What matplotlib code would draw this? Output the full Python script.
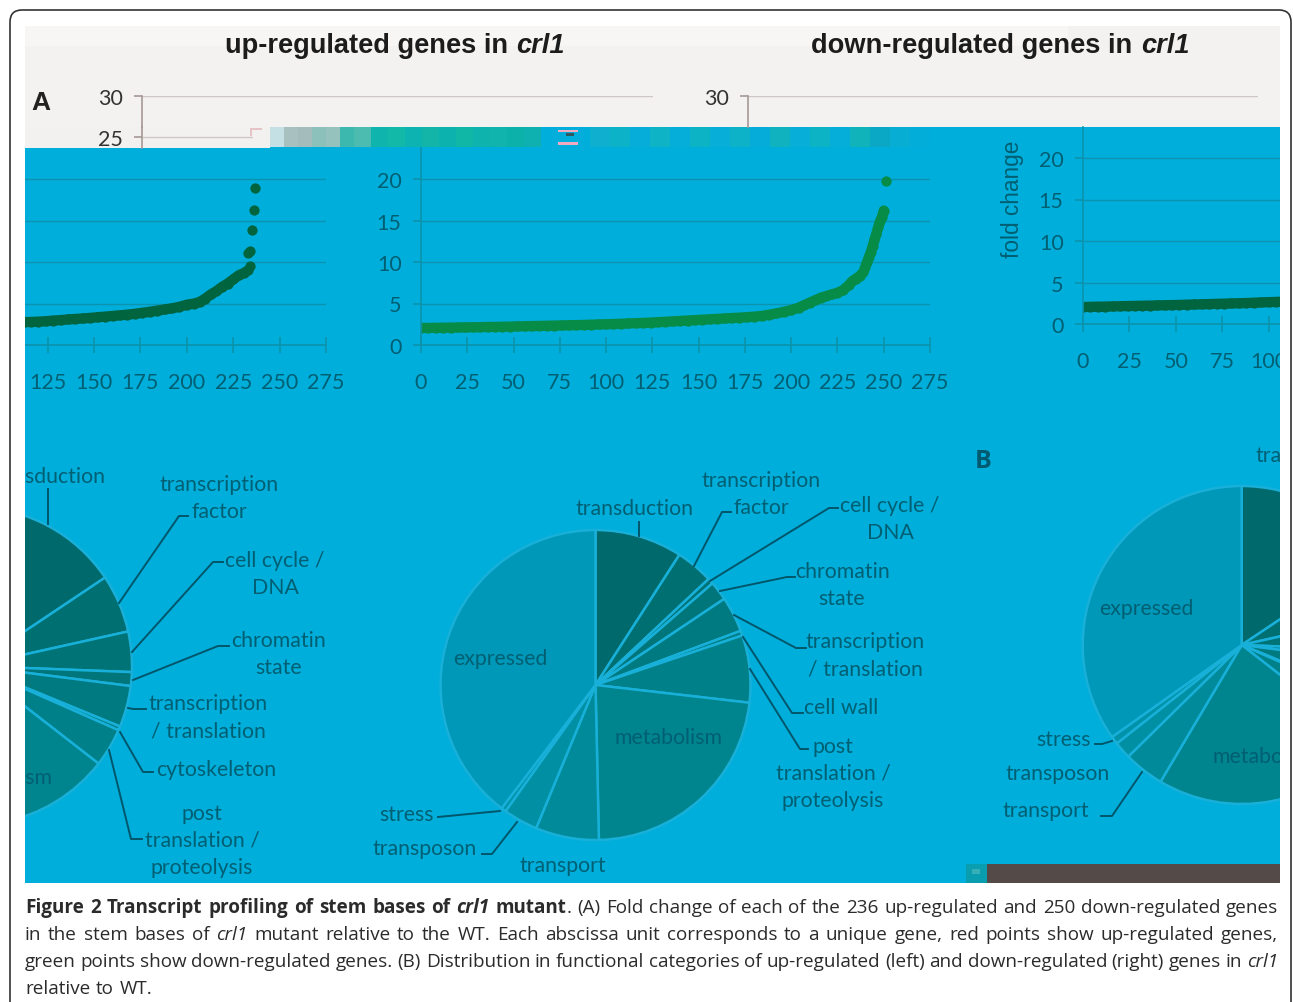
import matplotlib
matplotlib.use("Agg")
import matplotlib.pyplot as plt
from matplotlib.patches import Rectangle, FancyBboxPatch

W, H = 1293, 1003

# fold change, genes ranked by fold change
up_rank = list(range(0, 204, 4)) + [204, 207, 210, 213, 216, 219, 222, 225, 228, 231, 233, 234, 233, 234, 235, 236, 237]
up_fold = [2.05, 2.07, 2.09, 2.1, 2.12, 2.14, 2.16, 2.18, 2.2, 2.22, 2.24,
           2.26, 2.28, 2.3, 2.33, 2.35, 2.38, 2.4, 2.43, 2.45, 2.48,
           2.5, 2.53, 2.56, 2.6, 2.63, 2.66, 2.7, 2.74, 2.78, 2.82,
           2.86, 2.95, 3.0, 3.08, 3.14, 3.2, 3.27, 3.35, 3.42, 3.5,
           3.58, 3.66, 3.76, 3.88, 4.0, 4.14, 4.28, 4.42, 4.6, 4.85,
           5.0, 5.2, 5.6, 6.1, 6.5, 7.0, 7.4, 7.9, 8.4, 8.7, 9.0, 9.5, 11.1, 11.3, 13.9, 16.3, 18.9]
down_rank = list(range(0, 204, 4)) + [204, 207, 210, 213, 216, 219, 222, 225, 228, 231, 233, 235, 237, 239, 240, 241, 242, 243, 244, 245, 246, 247, 248, 249, 250, 251]
down_fold = [2.05, 2.06, 2.07, 2.08, 2.1, 2.11, 2.12, 2.14, 2.15, 2.17, 2.18,
             2.2, 2.22, 2.24, 2.26, 2.28, 2.3, 2.32, 2.34, 2.36, 2.38,
             2.4, 2.42, 2.45, 2.48, 2.5, 2.53, 2.56, 2.6, 2.63, 2.66,
             2.7, 2.75, 2.8, 2.85, 2.9, 2.95, 3.0, 3.05, 3.1, 3.15,
             3.2, 3.25, 3.3, 3.35, 3.42, 3.5, 3.65, 3.8, 4.0, 4.2,
             4.5, 4.8, 5.1, 5.4, 5.7, 5.9, 6.1, 6.3, 6.6, 7.2, 7.7, 8.0, 8.3, 8.8, 9.4, 10.0, 10.6, 11.2, 11.9, 12.7, 13.4, 14.2, 14.9, 15.4, 16.2, 19.8]
x_ticks = [0, 25, 50, 75, 100, 125, 150, 175, 200, 225, 250, 275]
y_ticks = [0, 5, 10, 15, 20]

# pie shares in percent, clockwise from twelve o'clock
up_share = [15.6, 5.9, 4.1, 1.4, 4.2, 0.4, 3.9, 23.0, 4.1, 1.75, 0.8, 34.8]
down_share = [9.1, 3.9, 0.6, 2.0, 3.7, 0.5, 7.0, 22.8, 6.6, 3.6, 0.5, 39.6]
pie_colors = ["#00696b", "#006f72", "#007377", "#00757a", "#007a81", "#007d84",
              "#008088", "#00858f", "#008a9a", "#008fa3", "#0092a9", "#0098b8"]

# colours of the damaged strip under the top band, left to right
strip_colors = ["#c5e0e5", "#a8c0c0", "#a4bcbc", "#8cc0bb", "#96c2bd", "#3cb8ae", "#4cbcb0",
                "#0fb5ad", "#12b8a8", "#0db3b0", "#12b5a8", "#0cb2ae", "#10b6a6", "#0db3ac",
                "#10b4ac", "#0cb2aa", "#0eb0b0"]
blue_strip = ["#0fb0cf", "#0cb2c8", "#06add8", "#0eb3c6", "#05add9", "#0cb3c4", "#06aed8", "#0db2c8",
              "#05acd9", "#10b2c0", "#06aed8", "#0cb3c4", "#05add9", "#10b3ba", "#0aa8c4", "#08add4", "#03add9"]

caption = [
    [("Figure 2 Transcript profiling of stem bases of ", "bold", "normal"), ("crl1", "bold", "italic"), (" mutant", "bold", "normal"),
     (". (A) Fold change of each of the 236 up-regulated and 250 down-regulated genes", "normal", "normal")],
    [("in the stem bases of ", "normal", "normal"), ("crl1", "normal", "italic"),
     (" mutant relative to the WT. Each abscissa unit corresponds to a unique gene, red points show up-regulated genes,", "normal", "normal")],
    [("green points show down-regulated genes. (B) Distribution in functional categories of up-regulated (left) and down-regulated (right) genes in ", "normal", "normal"),
     ("crl1", "normal", "italic")],
    [("relative to WT.", "normal", "normal")],
]

BLUE = "#00aedb"
INK = "#005f72"
GRID = "#0c93ad"
fig = plt.figure(figsize=(W / 100, H / 100), dpi=100, facecolor="white")


def px_axes(left, top, right, bottom, z=2):
    a = fig.add_axes([left / W, 1 - bottom / H, (right - left) / W, (bottom - top) / H], zorder=z)
    a.patch.set_alpha(0)
    return a


base = px_axes(0, 0, W, H, 1)
over = px_axes(0, 0, W, H, 5)


def box(a, x0, y0, x1, y1, color, **kw):
    a.add_patch(Rectangle((x0, H - y1), x1 - x0, y1 - y0, fc=color, ec="none", **kw))


def label(a, x, y, text, **kw):
    kw.setdefault("color", INK)
    kw.setdefault("fontsize", 15.3)
    kw.setdefault("family", "Lato")
    a.text(x, H - y, text, ha=kw.pop("ha", "center"), va="center", **kw)


def lines(x, y, text, step=27):
    for i, t in enumerate(text.split("\n")):
        label(base, x, y + 1 + i * step, t)


def leader(*pts):
    base.plot([p[0] for p in pts], [H - p[1] for p in pts], color="#00566a", lw=1.4, solid_joinstyle="round", zorder=6)


# background blocks
box(base, 25, 27, 1280, 128, "#f3f2f0")
box(base, 25, 27, 1068, 47, "#f7f6f5")
box(base, 25, 128, 270, 149, "#f3f1f0")
box(base, 25, 149, 1280, 884, BLUE)
box(base, 270, 128, 1280, 149, BLUE)
box(base, 250, 129, 262, 131, "#e6c4c6")
box(base, 250, 129, 252, 137, "#e6c4c6")
box(base, 987, 865, 1280, 884, "#544a47")
box(base, 966, 865, 987, 884, "#0a9db0")
box(base, 972, 870, 980, 875, "#35b0b8")

# damaged strip, coarse blocks like the JPEG errors in the source
xs = 270
for c in strip_colors:
    step = 14 if xs < 350 else 17
    box(base, xs, 128, xs + step, 148, c)
    xs += step
xs = 590
for c in blue_strip:
    box(base, xs, 128, xs + 20, 148, c)
    xs += 20
box(base, 558, 131, 578, 133, "#f0a9c0")
box(base, 558, 143, 578, 146, "#f0a9c0")
box(base, 566, 134, 574, 137, "#30585e")

# pies, the up-regulated one appears twice because the image wraps around
for cx, cy, r, share in [(-27, 667, 159, up_share), (1241.7, 646, 159, up_share), (595.5, 686, 155, down_share)]:
    base.pie(share, colors=pie_colors, center=(cx, H - cy), radius=r, startangle=90, counterclock=False,
             frame=True, wedgeprops=dict(edgecolor="#18b0d8", linewidth=1.8))
base.set_xlim(0, W)
base.set_ylim(0, H)
base.set_aspect("auto")
base.axis("off")


def panel(left, top, right, bottom, x_range, y_range, xt, yt, line, text, xlab=True):
    a = px_axes(left, top, right, bottom)
    a.set_xlim(*x_range)
    a.set_ylim(*y_range)
    for s in ["top", "right"]:
        a.spines[s].set_visible(False)
    a.spines["left"].set_color(line)
    a.spines["bottom"].set_color(line)
    a.spines["bottom"].set_visible(xlab)
    a.spines["left"].set_linewidth(1.2)
    a.spines["bottom"].set_linewidth(1.2)
    a.set_xticks(xt)
    a.set_yticks(yt)
    a.set_yticklabels([str(v) for v in yt], family="Lato", fontsize=15.5, color=text)
    a.set_xticklabels([str(v) for v in xt], family="Lato", fontsize=15.5, color=text)
    a.tick_params(axis="y", length=6, width=1.2, color=line, pad=8, direction="out")
    a.tick_params(axis="x", length=11, width=1.2, color=line, pad=14, direction="inout", bottom=xlab, labelbottom=xlab)
    a.grid(True, axis="y", color=line, lw=1.0)
    a.set_axisbelow(True)
    return a


scale = 1.855
y_top = (346 - 149) / 8.3
up_left = panel(25, 149, 325.9, 346, (275 - 300.9 / scale, 275), (0, y_top), x_ticks[5:], y_ticks, GRID, INK)
up_left.spines["left"].set_visible(False)
up_left.tick_params(axis="y", left=False, labelleft=False)
down_mid = panel(421, 149, 930, 346, (0, 275), (0, y_top), x_ticks, y_ticks, GRID, INK)
up_right = panel(1083, 128, 1280, 325, (0, 197 / scale), (0, 197 / 8.3), x_ticks[:5], y_ticks, GRID, INK)
# the low ranks sit so close that the dots merge to one thick band
for a, rank, fold, col, n in [(up_left, up_rank, up_fold, "#00643f", 62), (up_right, up_rank, up_fold, "#00643f", 62),
                              (down_mid, down_rank, down_fold, "#078c48", 76)]:
    a.plot(rank[:n], fold[:n], "-", color=col, lw=7.4, solid_capstyle="round")
    a.plot(rank, fold, "o", color=col, ms=7.4, mew=0)

# top band, what is left of the undamaged chart
grey_line, grey_axis, dark = "#cfc7c3", "#a59995", "#333333"
top_min = 30 - 31 / 8.3
panel(142, 97, 653, 128, (0, 275), (top_min, 30), [], [30], grey_line, dark, xlab=False)
panel(142, 128, 253, 149, (0, 60), (23.73, top_min), [], [25], grey_line, dark, xlab=False)
panel(748, 97, 1258, 128, (0, 275), (top_min, 30), [], [30], grey_line, dark, xlab=False)
for a in fig.axes[-3:]:
    a.spines["left"].set_color(grey_axis)
    a.tick_params(axis="y", color=grey_axis)

# pie labels
lines(46, 476, "transduction")
lines(219, 484, "transcription\nfactor")
lines(275, 560, "cell cycle /\nDNA")
lines(279, 640, "chromatin\nstate")
lines(208, 703, "transcription\n/ translation")
lines(216, 769, "cytoskeleton")
lines(202, 813, "post\ntranslation /\nproteolysis")
lines(-2, 777, "metabolism")
lines(634, 508, "transduction")
lines(761, 480, "transcription\nfactor")
lines(890, 505, "cell cycle /\nDNA")
lines(842, 571, "chromatin\nstate")
lines(865, 641, "transcription\n/ translation")
lines(841, 707, "cell wall")
lines(833, 746, "post\ntranslation /\nproteolysis")
lines(669, 737, "metabolism")
lines(500, 658, "expressed")
lines(407, 814, "stress")
lines(425, 848, "transposon")
lines(563, 865, "transport")
lines(1146, 608, "expressed")
lines(1266.6, 756, "metabolism")
lines(1064, 739, "stress")
lines(1058, 773, "transposon")
lines(1046, 810, "transport")
lines(1315, 455, "transduction")
label(base, 983, 462, "B", fontsize=18, weight="bold", family="Open Sans", color="#005a70")
label(base, 41, 103, "A", fontsize=19, weight="bold", family="Liberation Sans", color="#222222")
label(base, 1012, 199, "fold change", rotation=90, fontsize=16.3, family="Liberation Sans")

for x, t, st in [(225, "up-regulated genes in", "normal"), (516, "crl1", "italic"),
                 (811, "down-regulated genes in", "normal"), (1141, "crl1", "italic")]:
    label(base, x, 46, t, color="#1c1c1c", fontsize=19.6, weight="bold", style=st, family="Liberation Sans", ha="left")

for t in base.texts:
    t.set_zorder(6)

leader((48, 490), (48, 525))
leader((119, 604), (179, 517), (188, 517))
leader((132, 653), (213, 563), (223, 563))
leader((133, 681), (218, 647), (229, 647))
leader((128, 709), (133, 710), (146, 710))
leader((120, 733), (143, 773), (153, 773))
leader((109, 751), (131, 840), (142, 840))
leader((638.6, 523), (638.6, 537))
leader((694, 567), (722, 513), (731, 513))
leader((710, 582), (829, 509), (838, 509))
leader((720, 592), (787, 578), (795, 578))
leader((734, 616), (796, 649), (806, 649))
leader((743, 638), (792, 714), (803, 714))
leader((750, 670), (800, 750), (808, 750))
leader((438, 818), (500, 812))
leader((482, 855), (492, 855), (517, 823))
leader((1095, 745), (1102, 745), (1112, 742))
leader((1101, 817), (1112, 817), (1142, 773))

over.set_xlim(0, W)
over.set_ylim(0, H)
over.axis("off")
# white frame hides whatever runs past the edges of the picture
box(over, 0, 0, 25, H, "white")
box(over, 1280, 0, W, H, "white")
box(over, 0, 0, W, 27, "white")
box(over, 0, 884, W, H, "white")
over.add_patch(FancyBboxPatch((10, -30), 1281, 1022, boxstyle="round,pad=0,rounding_size=12", fc="none", ec="#333333", lw=1.2))

# caption, justified word by word
fig.canvas.draw()
rend = fig.canvas.get_renderer()
cap_left, cap_right = 25, 1278
for row, runs in enumerate(caption):
    words = []
    for text, weight, style in runs:
        for piece in text.replace(" ", "\0 \0").split("\0"):
            if piece:
                words.append((piece, weight, style))
    items = []
    for piece, weight, style in words:
        t = over.text(0, H - (908 + 27 * row), piece, family="Open Sans", fontsize=13.6, weight=weight, style=style,
                      color="#2b2b2b", ha="left", va="center")
        if piece == " ":
            t.set_text("n")
            w = t.get_window_extent(rend).width * 0.5
            t.set_text("")
        else:
            w = t.get_window_extent(rend).width
        items.append((t, piece, w))
    extra = 0
    if row < 3:
        gaps = sum(1 for i in items if i[1] == " ")
        extra = (cap_right - cap_left - sum(i[2] for i in items)) / max(gaps, 1)
    x = cap_left
    for t, piece, w in items:
        t.set_x(x)
        x += w + (extra if piece == " " else 0)

fig.savefig("out.png", dpi=100)
